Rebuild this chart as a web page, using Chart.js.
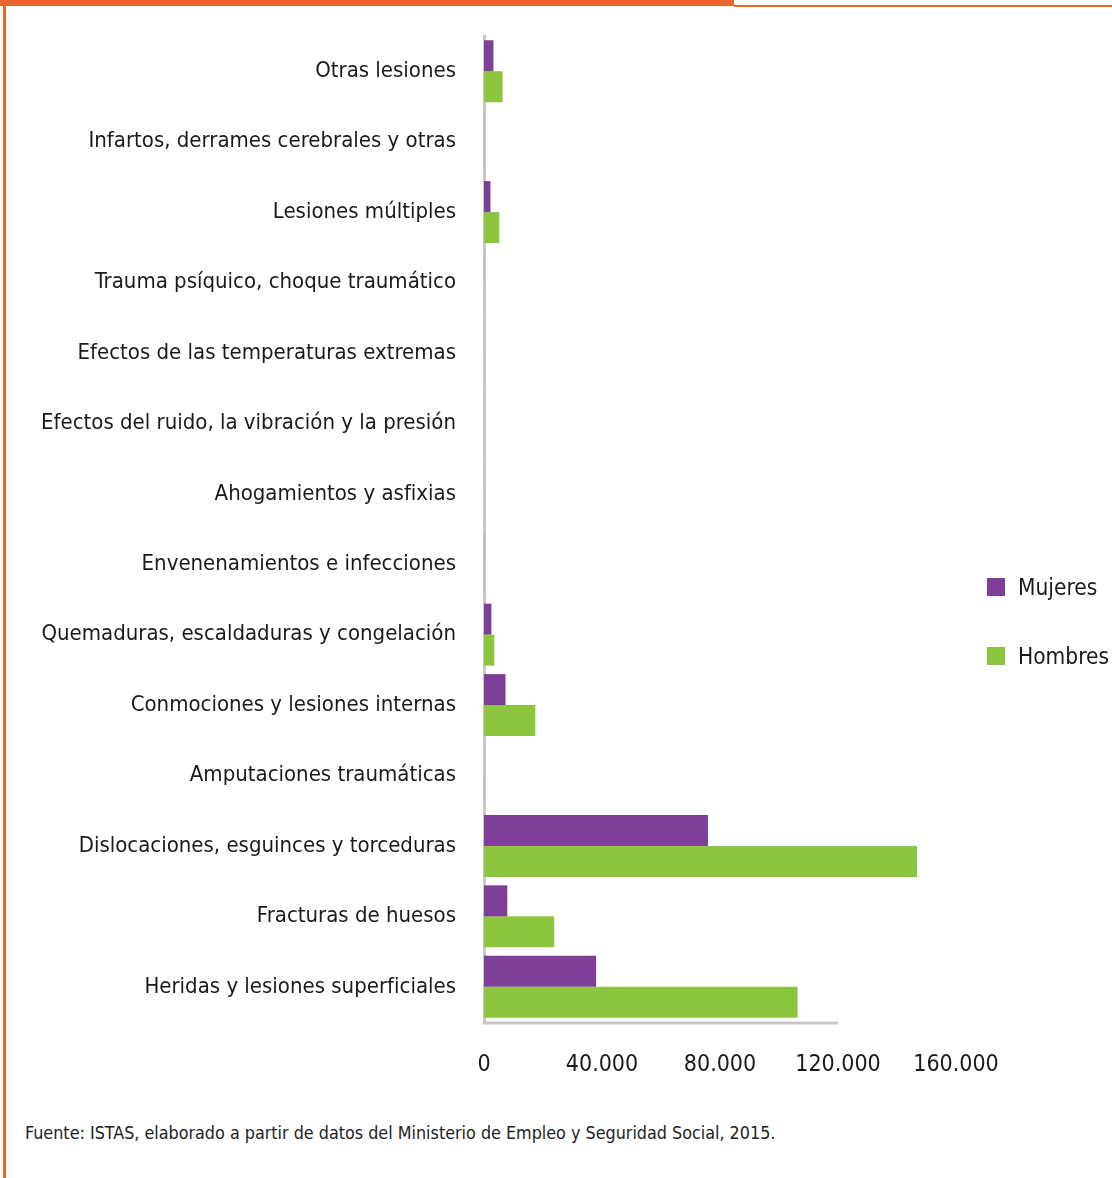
<!DOCTYPE html>
<html lang="es">
<head>
<meta charset="utf-8">
<title>Lesiones por accidente de trabajo según sexo</title>
<script src="https://cdn.jsdelivr.net/npm/chart.js@4/dist/chart.umd.min.js"></script>
<style>
  html, body { margin: 0; padding: 0; background: #ffffff; }
  body { width: 1112px; height: 1178px; position: relative; overflow: hidden;
         font-family: "Liberation Sans Narrow", "DejaVu Sans Condensed", "Roboto Condensed", sans-serif; color: #1a1a1a; }
  .frame-top { position: absolute; left: 0; top: 0; width: 734px; height: 6px; background: #e8662f; }
  .frame-line { position: absolute; left: 734px; top: 5px; width: 378px; height: 2px; background: #e8662f; }
  .frame-left { position: absolute; left: 3px; top: 0; width: 3px; height: 1178px; background: #e8662f; }
  #chart { position: absolute; left: 0; top: 0; }
  .legend { position: absolute; left: 987px; top: 573px; }
  .legend-item { position: relative; height: 69px; }
  .legend-box { position: absolute; left: 0; top: 5px; width: 18px; height: 18px; }
  .legend-text { position: absolute; left: 31px; top: 0; font-size: 22.5px; line-height: 28px; white-space: nowrap; }
  .source { position: absolute; left: 25px; top: 1122px; font-size: 17.8px; line-height: 22px; color: #222; white-space: nowrap; }
</style>
</head>
<body>
<div class="frame-top"></div>
<div class="frame-line"></div>
<div class="frame-left"></div>
<canvas id="chart" width="1112" height="1100"></canvas>
<div class="legend" id="legend"></div>
<div class="source">Fuente: ISTAS, elaborado a partir de datos del Ministerio de Empleo y Seguridad Social, 2015.</div>
<script>
// Tipos de lesión (de arriba abajo)
const categories = [
  'Otras lesiones',
  'Infartos, derrames cerebrales y otras',
  'Lesiones múltiples',
  'Trauma psíquico, choque traumático',
  'Efectos de las temperaturas extremas',
  'Efectos del ruido, la vibración y la presión',
  'Ahogamientos y asfixias',
  'Envenenamientos e infecciones',
  'Quemaduras, escaldaduras y congelación',
  'Conmociones y lesiones internas',
  'Amputaciones traumáticas',
  'Dislocaciones, esguinces y torceduras',
  'Fracturas de huesos',
  'Heridas y lesiones superficiales'
];

// Número de accidentes con baja por sexo
const mujeres = [3200, 40, 2200, 30, 10, 5, 10, 60, 2500, 7300, 20, 75900, 7900, 38000];
const hombres = [6300, 90, 5200, 30, 50, 30, 60, 90, 3500, 17400, 90, 146800, 23800, 106300];

const seriesNames = ['Mujeres', 'Hombres'];
const seriesColors = ['#7e3f98', '#8cc63f'];

// Eje de valores
const axisMax = 160000;
const axisStep = 40000;
const axisLineEnd = 120000;

const FONT = '"Liberation Sans Narrow", "DejaVu Sans Condensed", "Roboto Condensed", sans-serif';

function formatMiles(v) {
  return String(v).replace(/\B(?=(\d{3})+(?!\d))/g, '.');
}

// Línea base del eje horizontal
const baseLine = {
  id: 'baseLine',
  beforeDatasetsDraw(chart) {
    const x = chart.scales.x;
    const area = chart.chartArea;
    const ctx = chart.ctx;
    ctx.save();
    ctx.strokeStyle = '#c8c8c8';
    ctx.lineWidth = 3;
    ctx.beginPath();
    ctx.moveTo(x.getPixelForValue(0) - 1.5, area.bottom + 1);
    ctx.lineTo(x.getPixelForValue(axisLineEnd), area.bottom + 1);
    ctx.stroke();
    ctx.restore();
  }
};

const datasets = [mujeres, hombres].map((values, i) => ({
  label: seriesNames[i],
  data: values,
  backgroundColor: seriesColors[i],
  borderWidth: 0,
  barPercentage: 1.0,
  categoryPercentage: 0.88
}));

new Chart(document.getElementById('chart'), {
  type: 'bar',
  data: { labels: categories, datasets },
  options: {
    indexAxis: 'y',
    responsive: false,
    animation: false,
    devicePixelRatio: 1,
    layout: { padding: { top: 36, right: 156, bottom: 0, left: 0 } },
    plugins: { legend: { display: false }, tooltip: { enabled: false } },
    scales: {
      x: {
        min: 0,
        max: axisMax,
        grid: { display: false },
        border: { display: false },
        ticks: {
          stepSize: axisStep,
          padding: 21,
          color: '#1a1a1a',
          font: { family: FONT, size: 23 },
          maxRotation: 0,
          callback: v => formatMiles(v)
        },
        afterFit(scale) { scale.height = 78; }
      },
      y: {
        grid: { display: false },
        border: { display: true, color: '#c8c8c8', width: 3 },
        ticks: {
          padding: 20,
          color: '#1a1a1a',
          font: { family: FONT, size: 22 },
          autoSkip: false
        },
        afterFit(scale) { scale.width = 484; }
      }
    }
  },
  plugins: [baseLine]
});

// Leyenda
const legend = document.getElementById('legend');
seriesNames.forEach((name, i) => {
  const item = document.createElement('div');
  item.className = 'legend-item';
  const box = document.createElement('div');
  box.className = 'legend-box';
  box.style.background = seriesColors[i];
  const txt = document.createElement('div');
  txt.className = 'legend-text';
  txt.textContent = name;
  item.appendChild(box);
  item.appendChild(txt);
  legend.appendChild(item);
});
</script>
</body>
</html>
